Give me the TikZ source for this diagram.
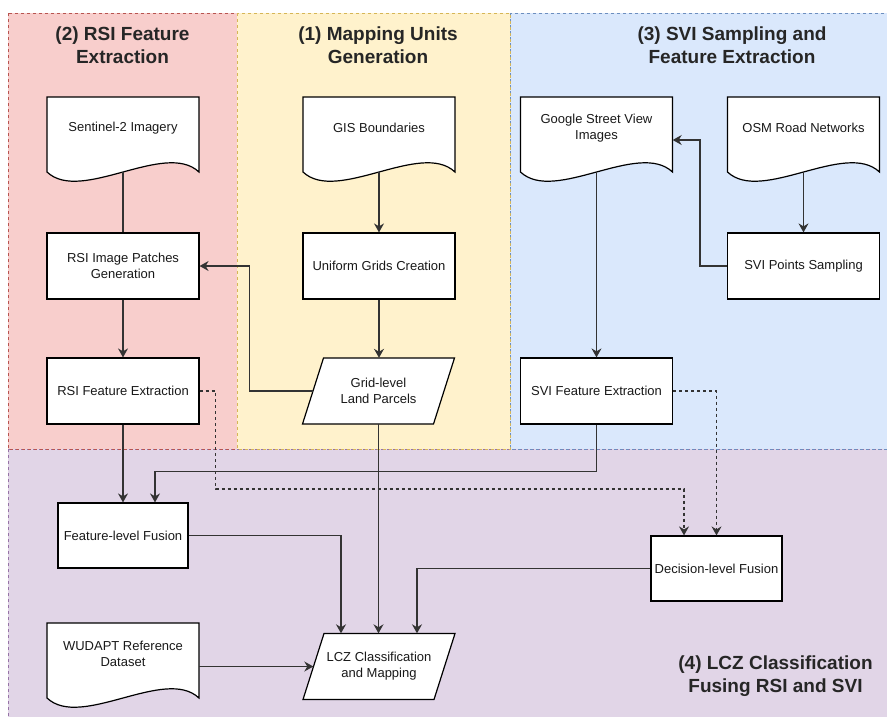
\documentclass[tikz,border=0pt]{standalone}
\usepackage{fontspec}
\setmainfont{Liberation Sans}
\usetikzlibrary{arrows.meta}

\newcommand{\wavedoc}[4]{%
	\filldraw[docline] (#2-76,#3-31) -- (#2+76,#3-31) -- (#2+76,#3+44)
		.. controls (#2+42,#3+12) and (#2-42,#3+76) .. (#2-76,#3+44) -- cycle;
	\node[txt, minimum width=152pt, minimum height=62pt] (#1) at (#2,#3) {#4};}
\newcommand{\slantbox}[4]{%
	\filldraw[docline] (#2-55,#3-33) -- (#2+76,#3-33) -- (#2+55,#3+33) -- (#2-76,#3+33) -- cycle;
	\node[txt, minimum width=131pt, minimum height=66pt] (#1) at (#2,#3) {#4};}

\definecolor{redfill}{HTML}{F8CECC}\definecolor{redline}{HTML}{B85450}
\definecolor{yelfill}{HTML}{FFF2CC}\definecolor{yelline}{HTML}{D6B656}
\definecolor{blufill}{HTML}{DAE8FC}\definecolor{bluline}{HTML}{6C8EBF}
\definecolor{purfill}{HTML}{E1D5E7}\definecolor{purline}{HTML}{9673A6}

\begin{document}
\begin{tikzpicture}
		    [%%%%%%%%%%%%%%%%%%%%%%%%%%%%%%
		        x=1pt, y=-1pt,
		        region/.style={dash pattern=on 3pt off 3pt, line width=0.8pt},
		        heading/.style={font=\fontsize{19}{23}\selectfont\bfseries, text=black!85, align=center},
		        txt/.style={font=\fontsize{13}{16}\selectfont, text=black!90, align=center, inner sep=2pt},
		        box/.style={txt, rectangle, draw=black, fill=white, line width=1.2pt, minimum width=152pt, minimum height=66pt},
		        docline/.style={draw=black, fill=white, line width=1.2pt},
		        link/.style={line width=1.2pt, draw=black!80},
		        arr/.style={link, -{Stealth[length=9pt,width=10pt,inset=3pt]}},
		        darr/.style={arr, dash pattern=on 3pt off 3pt},
		    ]%%%%%%%%%%%%%%%%%%%%%%%%%%%%%%
		\useasboundingbox (0,0) rectangle (887,716);
		\filldraw[region, fill=purfill, draw=purline] (8,449) rectangle (897,726);
		\filldraw[region, fill=redfill, draw=redline] (8,13) rectangle (237,449);
		\filldraw[region, fill=blufill, draw=bluline] (510,13) rectangle (897,449);
		\filldraw[region, fill=yelfill, draw=yelline] (237,13) rectangle (510,449);
		\node[heading] (h2) at (122.5,45.5) {(2) RSI Feature\\Extraction};
		\node[heading] (h1) at (378,45.5) {(1) Mapping Units\\Generation};
		\node[heading] (h3) at (732,45.5) {(3) SVI Sampling and\\Feature Extraction};
		\node[heading] (h4) at (775.5,676.5) {(4) LCZ Classification\\Fusing RSI and SVI};
		\wavedoc{sen}{123}{128}{Sentinel-2 Imagery}
		\wavedoc{gis}{379}{128}{GIS Boundaries}
		\wavedoc{gsv}{596.5}{128}{Google Street View\\Images}
		\wavedoc{osm}{803.5}{128}{OSM Road Networks}
		\wavedoc{wud}{123}{654}{WUDAPT Reference\\Dataset}
		\node[box] (patch) at (123,266) {RSI Image Patches\\Generation};
		\node[box] (grid) at (379,266) {Uniform Grids Creation};
		\node[box] (svp) at (803.5,266) {SVI Points Sampling};
		\node[box] (rfe) at (123,391) {RSI Feature Extraction};
		\slantbox{glp}{378.5}{391}{Grid-level\\Land Parcels}
		\node[box] (sfe) at (596.5,391) {SVI Feature Extraction};
		\node[box, minimum width=130pt, minimum height=65pt] (ffu) at (123,535.5) {Feature-level Fusion};
		\node[box, minimum width=131pt, minimum height=65pt] (dfu) at (716.5,568.5) {Decision-level Fusion};
		\slantbox{lcz}{379}{666.5}{LCZ Classification\\and Mapping}
		\draw[link] ([yshift=-13pt]sen.south) -- (patch.north);
		\draw[arr] ([yshift=-13pt]gis.south) -- (grid.north);
		\draw[arr] (grid.south) -- (grid.south |- glp.north);
		\draw[arr] (glp.west) -- ++(-63,0) |- (patch.east);
		\draw[arr] (patch.south) -- (rfe.north);
		\draw[arr] (rfe.south) -- (ffu.north -| rfe.south);
		\draw[arr] (sfe.south) -- ++(0,47) -| ([xshift=32pt]ffu.north);
		\draw[darr] (rfe.east) -- ++(16,0) -- ++(0,98) -| ([xshift=-32.5pt]dfu.north);
		\draw[darr] (sfe.east) -| (dfu.north);
		\draw[arr] (glp.south) -- (glp.south |- lcz.north);
		\draw[arr] (ffu.east) -| ([xshift=-38pt]lcz.north);
		\draw[arr] (dfu.west) -| ([xshift=38pt]lcz.north);
		\draw[arr] (lcz.west -| wud.east) -- (lcz.west);
		\draw[arr] ([yshift=-13pt]gsv.south) -- (sfe.north);
		\draw[arr] ([yshift=-13pt]osm.south) -- (svp.north);
		\draw[arr] (svp.west) -- ++(-27,0) |- ([yshift=-12pt]gsv.east);
		\end{tikzpicture}
\end{document}
